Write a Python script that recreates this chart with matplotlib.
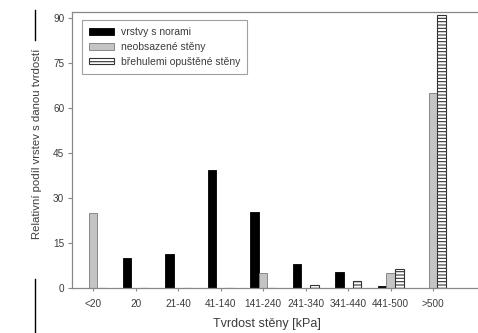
import matplotlib
matplotlib.use("Agg")
import matplotlib.pyplot as plt
from matplotlib.lines import Line2D
import numpy as np

categories = ["<20", "20", "21-40", "41-140", "141-240", "241-340", "341-440", "441-500", ">500"]
vrstvy_s_norami = [0, 10, 11.5, 39.5, 25.2, 8, 5.4, 0.8, 0]
neobsazene = [25, 0, 0, 0, 5.1, 0, 0, 5.1, 65]
brehulemi = [0, 0, 0, 0, 0, 1, 2.4, 6.2, 91]
legend_labels = ["vrstvy s norami", "neobsazené stěny", "břehulemi opuštěné stěny"]
yticks = [0, 15, 30, 45, 60, 75, 90]

plt.rcParams['font.family'] = ['Liberation Sans', 'DejaVu Sans']
plt.rcParams['hatch.linewidth'] = 0.8
plt.rcParams['hatch.color'] = '#333333'

fig = plt.figure(figsize=(4.78, 3.33), dpi=100)
ax = fig.add_axes([72/478, 45/333, 412/478, 276/333])

x = np.arange(len(categories))
w = 0.2
off = 0.205
txt = '#3c3c3c'
sp = '#888888'

b1 = ax.bar(x - off, vrstvy_s_norami, w, color='black', edgecolor='black', linewidth=0.6)
b2 = ax.bar(x, neobsazene, w, color='#c4c4c4', edgecolor='#7a7a7a', linewidth=0.6)
b3 = ax.bar(x + off, brehulemi, w, color='white', edgecolor='#333333', linewidth=0.8, hatch='-----')

ax.set_xlim(-0.5, 9.2)
ax.set_ylim(0, 92)
ax.set_xticks(x)
ax.set_xticklabels(categories)
ax.set_yticks(yticks)
ax.tick_params(axis='both', direction='out', width=0.8, color=sp, labelcolor=txt, labelsize=7.2)
ax.tick_params(axis='y', length=3, pad=2.5)
ax.tick_params(axis='x', length=2.5, pad=5.5)
for s in ['left', 'bottom', 'top']:
    ax.spines[s].set_color(sp)
    ax.spines[s].set_linewidth(0.9)
ax.spines['right'].set_visible(False)

ax.set_ylabel("Relativní podíl vrstev s danou tvrdostí", fontsize=8.2, color=txt)
ax.yaxis.set_label_coords(-30/412, (288 - 144) / 276)
fig.text(267/478, 1 - 324/333, "Tvrdost stěny [kPa]", fontsize=9, color=txt, ha='center', va='center')

leg = ax.legend([b1, b2, b3], legend_labels, loc='upper left', bbox_to_anchor=(10/412, 1 - 8/276),
                borderaxespad=0, fontsize=7.5, frameon=True, fancybox=False, edgecolor=sp, borderpad=0.7,
                handlelength=2.4, handleheight=0.6, labelspacing=0.45, handletextpad=0.6)
for t in leg.get_texts():
    t.set_color(txt)
leg.get_frame().set_linewidth(0.8)

fig.add_artist(Line2D([35/478, 35/478], [1 - 10/333, 1 - 40/333], color='black', linewidth=1, transform=fig.transFigure))
fig.add_artist(Line2D([35/478, 35/478], [1 - 279/333, 0], color='black', linewidth=1, transform=fig.transFigure))

fig.savefig("out.png", dpi=100)
